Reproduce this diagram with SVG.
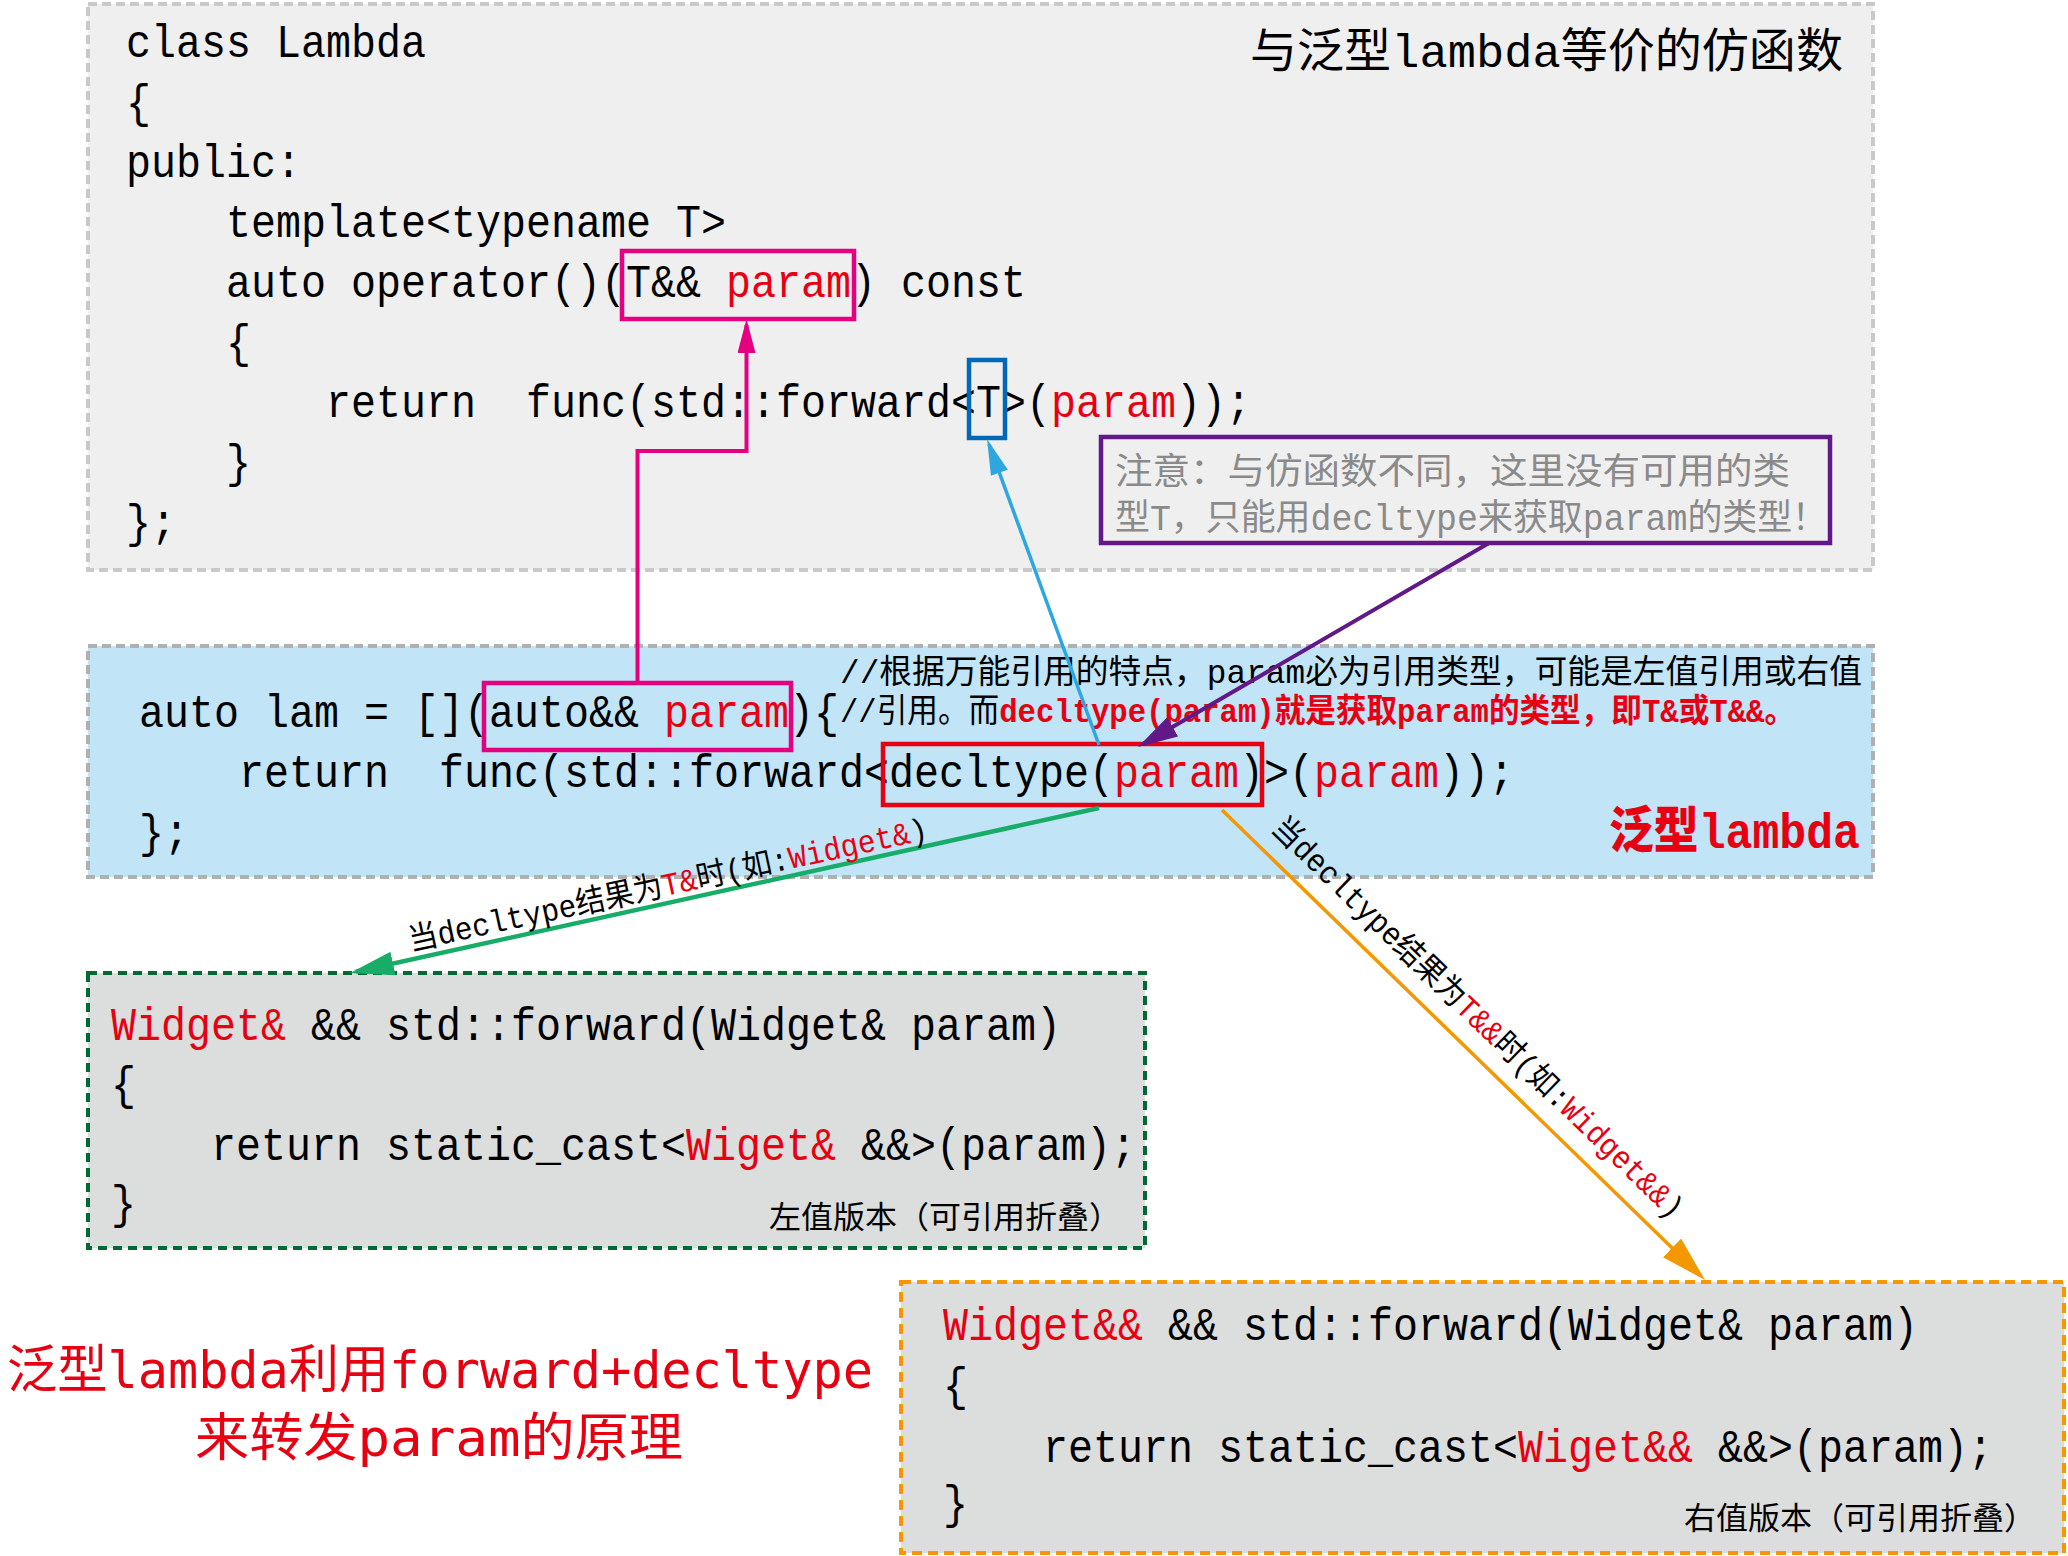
<svg xmlns="http://www.w3.org/2000/svg" width="2068" height="1556" viewBox="0 0 2068 1556" xml:space="preserve">
<style>
text { white-space: pre; }
.code { font-family: "Liberation Mono", "Noto Sans CJK SC", monospace; font-size: 46px; fill: #000; }
.cmt { font-family: "Liberation Mono", "Noto Sans CJK SC", monospace; font-size: 33px; fill: #000; }
.note { font-family: "Liberation Mono", "Noto Sans CJK SC", monospace; font-size: 36px; fill: #8a8a8a; }
.title { font-family: "Liberation Mono", "Noto Sans CJK SC", monospace; font-size: 47px; fill: #000; }
.lbl { font-family: "Liberation Mono", "Noto Sans CJK SC", monospace; font-size: 32px; fill: #000; }
.cap { font-family: "Liberation Mono", "Noto Sans CJK SC", monospace; font-size: 31px; fill: #000; }
.big { font-family: "DejaVu Sans Mono", "Noto Sans CJK SC", sans-serif; font-size: 52px; fill: #e60012; }
.red { fill: #e60012; }
.rb { fill: #e60012; font-weight: bold; }
.hl { fill: none; stroke-width: 4.5; }
</style>
<defs>
<marker id="ah-pink" markerUnits="userSpaceOnUse" viewBox="0 0 34 18" markerWidth="34" markerHeight="18" refX="28" refY="9" orient="auto"><path d="M0,0 L34,9 L0,18 z" fill="#e5007f"/></marker>
<marker id="ah-cyan" markerUnits="userSpaceOnUse" viewBox="0 0 36 18" markerWidth="36" markerHeight="18" refX="30" refY="9" orient="auto"><path d="M0,0 L36,9 L0,18 z" fill="#2ea7e0"/></marker>
<marker id="ah-purple" markerUnits="userSpaceOnUse" viewBox="0 0 40 22" markerWidth="40" markerHeight="22" refX="34" refY="11" orient="auto"><path d="M0,0 L40,11 L0,22 z" fill="#601986"/></marker>
<marker id="ah-green" markerUnits="userSpaceOnUse" viewBox="0 0 44 24" markerWidth="44" markerHeight="24" refX="38" refY="12" orient="auto"><path d="M0,0 L44,12 L0,24 z" fill="#17ad68"/></marker>
<marker id="ah-orange" markerUnits="userSpaceOnUse" viewBox="0 0 46 26" markerWidth="46" markerHeight="26" refX="40" refY="13" orient="auto"><path d="M0,0 L46,13 L0,26 z" fill="#f39800"/></marker>
</defs>
<rect width="2068" height="1556" fill="#ffffff"/>

<g id="node-functor">
<rect x="88" y="4" width="1785" height="566" fill="#efefef" stroke="#c9c9c9" stroke-width="4" stroke-dasharray="9 5"/>
<text class="title" x="1250" y="67" textLength="593" lengthAdjust="spacingAndGlyphs">与泛型lambda等价的仿函数</text>
<text class="code" x="126" y="57" textLength="300" lengthAdjust="spacingAndGlyphs">class Lambda</text>
<text class="code" x="126" y="117" textLength="25" lengthAdjust="spacingAndGlyphs">{</text>
<text class="code" x="126" y="177" textLength="175" lengthAdjust="spacingAndGlyphs">public:</text>
<text class="code" x="226" y="237" textLength="500" lengthAdjust="spacingAndGlyphs">template&lt;typename T&gt;</text>
<text class="code" x="226" y="297" textLength="800" lengthAdjust="spacingAndGlyphs">auto operator()(T&amp;&amp; <tspan class="red">param</tspan>) const</text>
<text class="code" x="226" y="357" textLength="25" lengthAdjust="spacingAndGlyphs">{</text>
<text class="code" x="326" y="417" textLength="925" lengthAdjust="spacingAndGlyphs">return  func(std::forward&lt;T&gt;(<tspan class="red">param</tspan>));</text>
<text class="code" x="226" y="477" textLength="25" lengthAdjust="spacingAndGlyphs">}</text>
<text class="code" x="126" y="537" textLength="50" lengthAdjust="spacingAndGlyphs">};</text>
<rect class="hl" x="622" y="251" width="232" height="68" stroke="#e5007f"/>
<rect class="hl" x="969" y="360" width="36" height="78" stroke="#0068b7"/>
</g>

<g id="node-note">
<rect x="1101" y="437" width="729" height="106" fill="none" stroke="#601986" stroke-width="4.5"/>
<text class="note" x="1115" y="484" textLength="675" lengthAdjust="spacingAndGlyphs">注意：与仿函数不同，这里没有可用的类</text>
<text class="note" x="1115" y="530" textLength="712" lengthAdjust="spacingAndGlyphs">型T，只能用decltype来获取param的类型！</text>
</g>

<g id="node-generic-lambda">
<rect x="88" y="646" width="1785" height="231" fill="#c1e4f6" stroke="#b0b0b0" stroke-width="4" stroke-dasharray="9 5"/>
<text class="code" x="139" y="727" textLength="700" lengthAdjust="spacingAndGlyphs">auto lam = [](auto&amp;&amp; <tspan class="red">param</tspan>){</text>
<text class="cmt" x="840" y="683" textLength="1022" lengthAdjust="spacingAndGlyphs">//根据万能引用的特点，param必为引用类型，可能是左值引用或右值</text>
<text class="cmt" x="840" y="722" textLength="955" lengthAdjust="spacingAndGlyphs">//引用。而<tspan class="rb">decltype(param)就是获取param的类型，即T&amp;或T&amp;&amp;。</tspan></text>
<text class="code" x="239" y="787" textLength="1275" lengthAdjust="spacingAndGlyphs">return  func(std::forward&lt;decltype(<tspan class="red">param</tspan>)&gt;(<tspan class="red">param</tspan>));</text>
<text class="code" x="139" y="847" textLength="50" lengthAdjust="spacingAndGlyphs">};</text>
<text x="1609" y="848" textLength="251" lengthAdjust="spacingAndGlyphs" style="font-family: 'Liberation Mono', 'Noto Sans CJK SC', monospace; font-size: 50px; font-weight: 900; fill: #e60012;">泛型lambda</text>
<rect class="hl" x="484" y="683" width="307" height="67" stroke="#e5007f"/>
<rect class="hl" x="883" y="744" width="379" height="61" stroke="#e60012"/>
</g>

<g id="node-lvalue">
<rect x="88" y="973" width="1057" height="275" fill="#dcdddd" stroke="#006934" stroke-width="4" stroke-dasharray="9 6"/>
<text class="code" x="111" y="1040" textLength="950" lengthAdjust="spacingAndGlyphs"><tspan class="red">Widget&amp;</tspan> &amp;&amp; std::forward(Widget&amp; param)</text>
<text class="code" x="111" y="1099" textLength="25" lengthAdjust="spacingAndGlyphs">{</text>
<text class="code" x="211" y="1160" textLength="925" lengthAdjust="spacingAndGlyphs">return static_cast&lt;<tspan class="red">Wiget&amp;</tspan> &amp;&amp;&gt;(param);</text>
<text class="code" x="111" y="1218" textLength="25" lengthAdjust="spacingAndGlyphs">}</text>
<text class="cap" x="769" y="1228" textLength="352" lengthAdjust="spacingAndGlyphs">左值版本（可引用折叠）</text>
</g>

<g id="node-rvalue">
<rect x="901" y="1282" width="1163" height="271" fill="#dcdddd" stroke="#f39800" stroke-width="4" stroke-dasharray="10 6"/>
<text class="code" x="943" y="1340" textLength="975" lengthAdjust="spacingAndGlyphs"><tspan class="red">Widget&amp;&amp;</tspan> &amp;&amp; std::forward(Widget&amp; param)</text>
<text class="code" x="943" y="1400" textLength="25" lengthAdjust="spacingAndGlyphs">{</text>
<text class="code" x="1043" y="1462" textLength="950" lengthAdjust="spacingAndGlyphs">return static_cast&lt;<tspan class="red">Wiget&amp;&amp;</tspan> &amp;&amp;&gt;(param);</text>
<text class="code" x="943" y="1518" textLength="25" lengthAdjust="spacingAndGlyphs">}</text>
<text class="cap" x="1684" y="1529" textLength="352" lengthAdjust="spacingAndGlyphs">右值版本（可引用折叠）</text>
</g>

<g id="node-caption">
<text class="big" x="7" y="1388" textLength="866" lengthAdjust="spacingAndGlyphs">泛型lambda利用forward+decltype</text>
<text class="big" x="195" y="1456" textLength="488" lengthAdjust="spacingAndGlyphs">来转发param的原理</text>
</g>

<g id="connectors" fill="none">
<path d="M637.5,683 V451 H746.5 V325" stroke="#e5007f" stroke-width="4" marker-end="url(#ah-pink)"/>
<path d="M1099,745 L989.1,444.6" stroke="#2ea7e0" stroke-width="3.5" marker-end="url(#ah-cyan)"/>
<path d="M1489,543 L1143.2,744" stroke="#601986" stroke-width="4" marker-end="url(#ah-purple)"/>
<path d="M1099,808 L355.9,971.7" stroke="#17ad68" stroke-width="4.5" marker-end="url(#ah-green)"/>
<path d="M1222,810 L1700.7,1275.8" stroke="#f39800" stroke-width="3.5" marker-end="url(#ah-orange)"/>
<text class="lbl" x="411" y="951" transform="rotate(-12.2 411 951)" textLength="530" lengthAdjust="spacingAndGlyphs">当decltype结果为<tspan class="red">T&amp;</tspan>时(如:<tspan class="red">Widget&amp;</tspan>)</text>
<text class="lbl" x="1270" y="830" transform="rotate(44.2 1270 830)" textLength="560" lengthAdjust="spacingAndGlyphs">当decltype结果为<tspan class="red">T&amp;&amp;</tspan>时(如:<tspan class="red">Widget&amp;&amp;</tspan>)</text>
</g>
</svg>
